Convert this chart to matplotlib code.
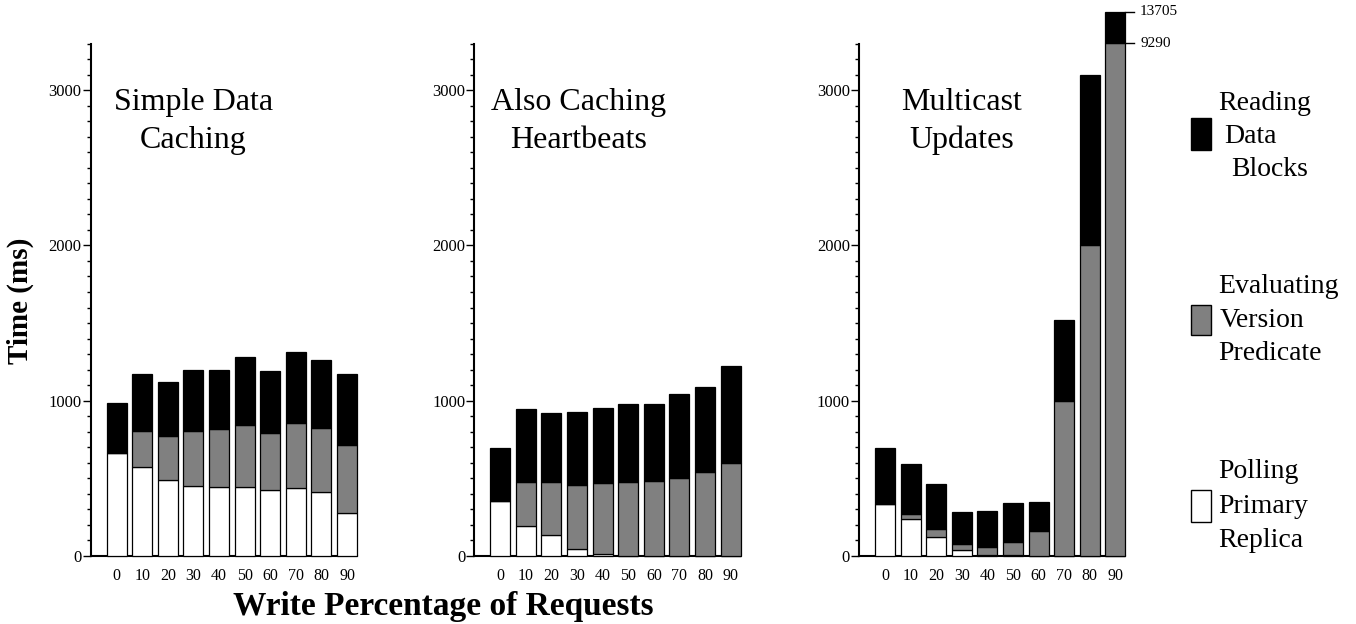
import numpy as np
import matplotlib
matplotlib.use("Agg")
import matplotlib.pyplot as plt
from matplotlib.patches import Rectangle
from matplotlib.ticker import MultipleLocator

plt.rcParams["font.family"] = ["Liberation Serif", "DejaVu Serif"]

# ---------------- data ----------------
categories = ["0", "10", "20", "30", "40", "50", "60", "70", "80", "90"]
panel_titles = ["Simple Data\nCaching", "Also Caching\nHeartbeats", "Multicast\nUpdates"]

# Simple Data Caching
polling_simple = [662, 575, 488, 452, 447, 447, 422, 441, 411, 278]
evaluating_simple = [0, 233, 282, 354, 368, 397, 370, 415, 415, 435]
reading_simple = [323, 367, 352, 390, 385, 439, 402, 457, 434, 460]

# Also Caching Heartbeats
polling_heart = [354, 195, 137, 47, 13, 0, 0, 0, 0, 0]
evaluating_heart = [0, 279, 337, 410, 457, 476, 483, 502, 539, 601]
reading_heart = [343, 475, 444, 472, 481, 503, 498, 543, 548, 620]

# Multicast Updates
polling_multi = [333, 236, 124, 36, 4, 8, 0, 0, 0, 0]
evaluating_multi = [0, 34, 48, 41, 54, 80, 161, 1000, 2000, 9290]
reading_multi = [364, 320, 289, 206, 234, 251, 187, 520, 1100, 4415]

legend_lines = [
    ["Reading", "Data", "Blocks"],
    ["Evaluating", "Version", "Predicate"],
    ["Polling", "Primary", "Replica"],
]

# ---------------- figure ----------------
W, H = 1356, 624
fig = plt.figure(figsize=(W / 100, H / 100), dpi=100)

GRAY = "#808080"
AX_TOP = 3300
BAR_W = 0.78

# broken scale for the tall bar in the last panel
last_low = polling_multi[-1] + evaluating_multi[-1]
last_high = last_low + reading_multi[-1]
SEG_IN = np.array([0.0, AX_TOP, last_low, last_high])
SEG_OUT = np.array([0.0, AX_TOP, AX_TOP + 1.0, 3505.0])
SLOPE = (SEG_OUT[3] - SEG_OUT[2]) / (SEG_IN[3] - SEG_IN[2])


def fwd(y):
    y = np.asarray(y, dtype=float)
    out = np.interp(y, SEG_IN, SEG_OUT)
    out = np.where(y < 0, y, out)
    out = np.where(y > SEG_IN[3], SEG_OUT[3] + (y - SEG_IN[3]) * SLOPE, out)
    return out


def inv(y):
    y = np.asarray(y, dtype=float)
    out = np.interp(y, SEG_OUT, SEG_IN)
    out = np.where(y < 0, y, out)
    out = np.where(y > SEG_OUT[3], SEG_IN[3] + (y - SEG_OUT[3]) / SLOPE, out)
    return out


def px2fig(x, y):
    return x / W, 1 - y / H


panels = [
    (polling_simple, evaluating_simple, reading_simple),
    (polling_heart, evaluating_heart, reading_heart),
    (polling_multi, evaluating_multi, reading_multi),
]
lefts = [90.7, 474.3, 859.0]
title_x = [3.0, 3.04, 2.99]
title_base = [2872, 2627]

axes = []
for i, (pol, evl, rd) in enumerate(panels):
    l, b = px2fig(lefts[i], 556)
    ax = fig.add_axes([l, b, 266 / W, 512.5 / H])
    if i == 2:
        ax.set_yscale("function", functions=(fwd, inv))
    x = np.arange(len(categories))
    pol = np.array(pol, float)
    evl = np.array(evl, float)
    rd = np.array(rd, float)
    kw = dict(width=BAR_W, edgecolor="black", linewidth=0.9, clip_on=False, zorder=3)
    ax.bar(x, pol, color="white", **kw)
    ax.bar(x, evl, bottom=pol, color=GRAY, **kw)
    ax.bar(x, rd, bottom=pol + evl, color="black", **kw)

    ax.set_xlim(-1.016, 9.379)
    ax.set_ylim(0, AX_TOP)
    ax.set_xticks(x)
    ax.set_xticklabels(categories)
    ax.yaxis.set_major_locator(MultipleLocator(1000))
    ax.yaxis.set_minor_locator(MultipleLocator(100))
    ax.tick_params(axis="y", which="major", direction="out", length=6, width=1.0,
                   labelsize=12, pad=0.5)
    ax.tick_params(axis="y", which="minor", direction="out", length=3, width=1.0)
    ax.tick_params(axis="x", length=0, labelsize=11.5, pad=9)
    for s in ("top", "right"):
        ax.spines[s].set_visible(False)
    ax.spines["left"].set_linewidth(1.5)
    ax.spines["bottom"].set_linewidth(1.5)
    ax.set_facecolor("none")

    for line, yb in zip(panel_titles[i].split("\n"), title_base):
        ax.text(title_x[i], yb, line, ha="center", va="baseline", fontsize=23)
    axes.append(ax)

# labels for the broken bar
ax3 = axes[2]
xe = len(categories) - 1 + BAR_W / 2
for v in (last_high, last_low):
    ax3.plot([xe, xe + 0.33], [v, v], color="black", lw=1.0, clip_on=False)
    ax3.text(xe + 0.58, v, f"{int(v)}", ha="left", va="center", fontsize=11,
             clip_on=False)

# axis labels
fig.text(*px2fig(20, 301), "Time (ms)", rotation=90, ha="center", va="center",
         fontsize=21, fontweight="bold")
fig.text(*px2fig(443, 606), "Write Percentage of Requests", ha="center",
         va="center", fontsize=24, fontweight="bold")

# legend
swatches = [
    ("black", 117.7, 150.0),
    (GRAY, 305.0, 335.0),
    ("white", 490.0, 522.0),
]
baselines = [(110, 143, 176), (293, 327, 360), (478, 513, 547)]
xoffs = [(1218, 1224, 1231), (1218, 1220, 1218), (1218, 1218, 1218)]
for (col, y0, y1), bl, xo, lines in zip(swatches, baselines, xoffs, legend_lines):
    fx0, fy1 = px2fig(1190.7, y1)
    fig.add_artist(Rectangle((fx0, fy1), 20.3 / W, (y1 - y0) / H,
                             transform=fig.transFigure, facecolor=col,
                             edgecolor="black", linewidth=1.0))
    for txt, by, bx in zip(lines, bl, xo):
        fig.text(*px2fig(bx, by), txt, ha="left", va="baseline", fontsize=20)

fig.savefig("out.png", dpi=100)
